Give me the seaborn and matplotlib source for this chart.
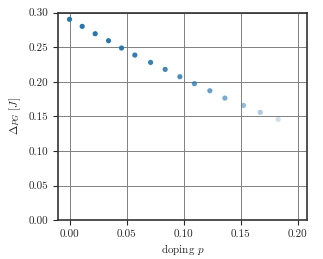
import numpy as np
import pandas as pd
import matplotlib
matplotlib.use("Agg")
import matplotlib.pyplot as plt
import seaborn as sns
from matplotlib.colors import to_rgba

# valores
doping = [0.0, 0.0111, 0.0225, 0.0342, 0.0456, 0.0573, 0.0711, 0.0839,
          0.0968, 0.1096, 0.1231, 0.1363, 0.1526, 0.1673, 0.1830]
gap = [0.2904, 0.2802, 0.2696, 0.2595, 0.2489, 0.2387, 0.2281, 0.2180,
       0.2074, 0.1973, 0.1871, 0.1765, 0.1659, 0.1558, 0.1457]

df = pd.DataFrame({"p": doping, "gap": gap})

sns.set_style("ticks")
plt.rcParams["font.family"] = "serif"
plt.rcParams["font.serif"] = ["cmr10", "DejaVu Serif"]
plt.rcParams["mathtext.fontset"] = "cm"
plt.rcParams["axes.formatter.use_mathtext"] = True
plt.rcParams["font.size"] = 8

fig, ax = plt.subplots(figsize=(3.23, 2.59), dpi=100)
fig.subplots_adjust(left=0.18, right=0.95, top=0.951, bottom=0.15)

# transparência cresce com a dopagem
alphas = 1 - 0.95 * (df["p"] / 0.2) ** 2.3
cores = [to_rgba("tab:blue", a) for a in alphas]

sns.scatterplot(data=df, x="p", y="gap", ax=ax, s=14, linewidth=0, c=cores)

ax.set_xlim(-0.01, 0.2082)
ax.set_ylim(0, 0.30)
ax.set_xticks([0.0, 0.05, 0.10, 0.15, 0.20])
ax.set_yticks(np.arange(0, 0.31, 0.05))
ax.xaxis.set_major_formatter(matplotlib.ticker.FormatStrFormatter("%.2f"))
ax.yaxis.set_major_formatter(matplotlib.ticker.FormatStrFormatter("%.2f"))
ax.grid(True, color="gray", linewidth=0.7)
ax.set_axisbelow(True)
for s in ax.spines.values():
    s.set_color("#333333")
    s.set_linewidth(1.2)

ax.set_xlabel(r"doping $p$", labelpad=2)
ax.set_ylabel(r"$\Delta_{PG}\ [J]$")

plt.savefig("out.png", dpi=100)
